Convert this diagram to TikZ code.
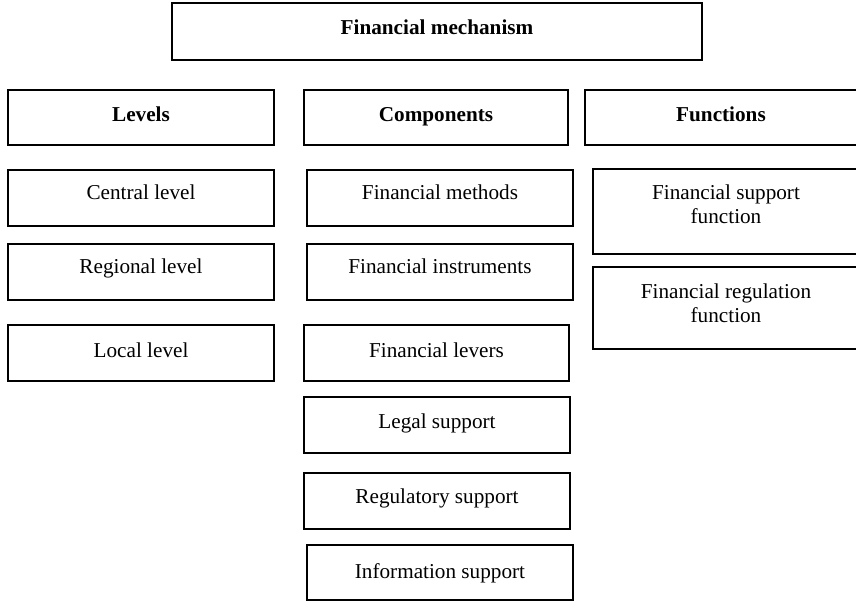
\documentclass[tikz,border=0pt]{standalone}
\usepackage{fontspec}
\setmainfont{Liberation Serif}
\begin{document}
\begin{tikzpicture}[x=1pt,y=-1pt,
  box/.style={draw, line width=1.4pt, inner sep=0pt, outer sep=0pt},
  lbl/.style={font=\fontsize{21.2}{24}\selectfont, inner sep=0pt, anchor=base},
  hdr/.style={lbl, font=\fontsize{21.2}{24}\selectfont\bfseries},
  two/.style={font=\fontsize{21.2}{24}\selectfont, inner sep=0pt, align=center, anchor=center}]
\useasboundingbox (0,0) rectangle (856,601);
% boxes
\node[box, minimum width=530pt, minimum height=57pt] (top) at (437,31.5) {};
\node[box, minimum width=266pt, minimum height=55pt] (levels) at (141,117.5) {};
\node[box, minimum width=264pt, minimum height=55pt] (components) at (436,117.5) {};
\node[box, minimum width=272pt, minimum height=55pt] (functions) at (721,117.5) {};
\node[box, minimum width=266pt, minimum height=56pt] (central) at (141,198) {};
\node[box, minimum width=266pt, minimum height=56pt] (regional) at (141,272) {};
\node[box, minimum width=266pt, minimum height=56pt] (local) at (141,353) {};
\node[box, minimum width=266pt, minimum height=56pt] (methods) at (440,198) {};
\node[box, minimum width=266pt, minimum height=56pt] (instruments) at (440,272) {};
\node[box, minimum width=265pt, minimum height=56pt] (levers) at (436.5,353) {};
\node[box, minimum width=266pt, minimum height=56pt] (legal) at (437,425) {};
\node[box, minimum width=266pt, minimum height=56pt] (regulatory) at (437,501) {};
\node[box, minimum width=266pt, minimum height=55pt] (information) at (440,572.5) {};
\node[box, minimum width=264pt, minimum height=85pt] (support) at (725,211.5) {};
\node[box, minimum width=264pt, minimum height=82pt] (regulation) at (725,308) {};
% texts
\node[hdr] (topT) at (437,35) {Financial mechanism};
\node[hdr] (levelsT) at (141,122) {Levels};
\node[hdr] (componentsT) at (436,122) {Components};
\node[hdr] (functionsT) at (721,122) {Functions};
\node[lbl] (centralT) at (141,200) {Central level};
\node[lbl] (regionalT) at (141,274) {Regional level};
\node[lbl] (localT) at (141,357) {Local level};
\node[lbl] (methodsT) at (440,200) {Financial methods};
\node[lbl] (instrumentsT) at (440,274) {Financial instruments};
\node[lbl] (leversT) at (436.5,357) {Financial levers};
\node[lbl] (legalT) at (437,428) {Legal support};
\node[lbl] (regulatoryT) at (437,503) {Regulatory support};
\node[lbl] (informationT) at (440,578) {Information support};
\node[two] (supportT) at (726,204.75) {Financial support\\function};
\node[two] (regulationT) at (726,302.75) {Financial regulation\\function};
\end{tikzpicture}
\end{document}
